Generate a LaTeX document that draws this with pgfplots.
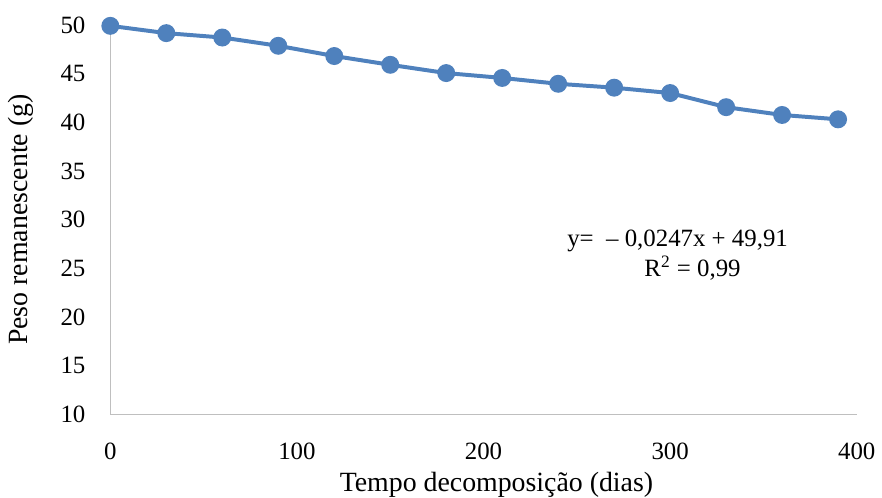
\documentclass[border=0pt]{standalone}
\usepackage{fontspec}
\setmainfont{Liberation Serif}
\usepackage{pgfplots}
\pgfplotsset{compat=1.18}
\definecolor{xlblue}{HTML}{4F81BD}
\definecolor{axgray}{HTML}{BFBFBF}
\begin{document}
\begin{tikzpicture}
\begin{axis}[
  width=375.5pt, height=196pt,
  scale only axis,
  xmin=0, xmax=400, ymin=10, ymax=50,
  xtick={0,100,200,300,400},
  ytick={10,15,20,25,30,35,40,45,50},
  axis x line*=bottom, axis y line*=left,
  axis line style={axgray, line width=0.75pt, -},
  major tick length=0pt,
  xticklabel style={yshift=-11pt},
  yticklabel style={xshift=-9pt},
  tick label style={font=\fontsize{12.5}{15}\selectfont},
  label style={font=\fontsize{14}{17}\selectfont},
  /pgf/number format/assume math mode=true,
  xlabel={Tempo decomposição (dias)},
  ylabel={Peso remanescente (g)},
  xlabel style={at={(rel axis cs:0.5,-0.2143)}, anchor=south, inner sep=0pt, xshift=6.5pt},
  ylabel style={at={(rel axis cs:-0.1478,0.5)}, anchor=north, inner sep=0pt, yshift=-4pt},
  clip=false,
]
\addplot[color=xlblue, line width=2pt, mark=*, mark size=3.5pt,
  mark options={fill=xlblue, draw=xlblue}] coordinates {
  (0,49.9) (30,49.15) (60,48.7) (90,47.85) (120,46.8) (150,45.9)
  (180,45.05) (210,44.55) (240,43.95) (270,43.55) (300,43.0)
  (330,41.55) (360,40.75) (390,40.3)
};
\node[font=\fontsize{12.5}{15}\selectfont] at (axis cs:304,27.8) {y= \ – 0,0247x + 49,91};
\node[font=\fontsize{12.5}{15}\selectfont] at (axis cs:312,25.0) {R\textsuperscript{2} = 0,99};
\path[use as bounding box] (rel axis cs:-0.1478,-0.2143) rectangle (rel axis cs:1.0266,1.0638);
\end{axis}
\end{tikzpicture}
\end{document}
